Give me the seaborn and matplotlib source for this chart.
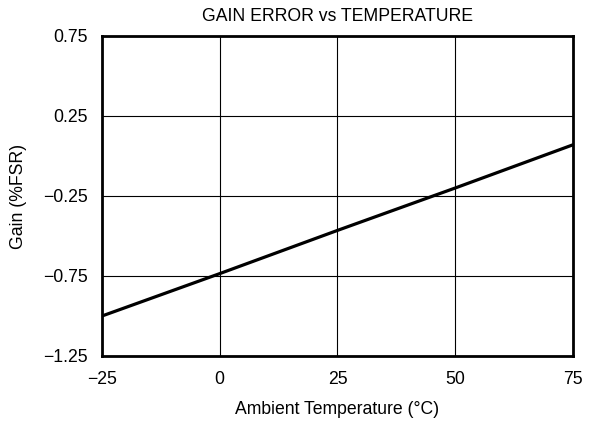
import numpy as np
import pandas as pd
import seaborn as sns
import matplotlib.pyplot as plt

# gain error
temperature = [-25, 0, 25, 50, 75]
gain = [-1.00, -0.735, -0.465, -0.20, 0.07]

x_ticks = [-25, 0, 25, 50, 75]
y_ticks = [-1.25, -0.75, -0.25, 0.25, 0.75]

sns.set_style("white")
plt.rcParams['font.family'] = ['Liberation Sans', 'DejaVu Sans']
plt.rcParams['axes.unicode_minus'] = True
plt.rcParams['text.color'] = 'black'
plt.rcParams['axes.labelcolor'] = 'black'

df = pd.DataFrame({'Temperature': temperature, 'Gain': gain})

fig = plt.figure(figsize=(5.94, 4.22), dpi=100)
ax = fig.add_axes([0.1717, 0.1564, 0.7929, 0.7583])

sns.lineplot(x='Temperature', y='Gain', data=df, color='black', linewidth=2.3, ax=ax)

ax.set_xlim(-25, 75)
ax.set_ylim(-1.25, 0.75)
ax.set_xticks(x_ticks)
ax.set_yticks(y_ticks)
ax.set_xticklabels([str(v).replace('-', '\u2212') for v in x_ticks])
ax.set_yticklabels([f"{v:.2f}".replace('-', '\u2212') for v in y_ticks])
ax.tick_params(length=0, labelsize=12.7, colors='black')
ax.tick_params(axis='x', pad=11)
ax.tick_params(axis='y', pad=10)
ax.grid(True, color='black', linewidth=0.8)
for s in ax.spines.values():
    s.set_color('black')
    s.set_linewidth(2)

ax.set_title('GAIN ERROR vs TEMPERATURE', fontsize=12.7, pad=11, color='black')
ax.set_xlabel('Ambient Temperature (°C)', fontsize=12.7, labelpad=9, color='black')
ax.set_ylabel('Gain (%FSR)', fontsize=12.7, labelpad=12, color='black')

plt.savefig('out.png')
plt.close()
